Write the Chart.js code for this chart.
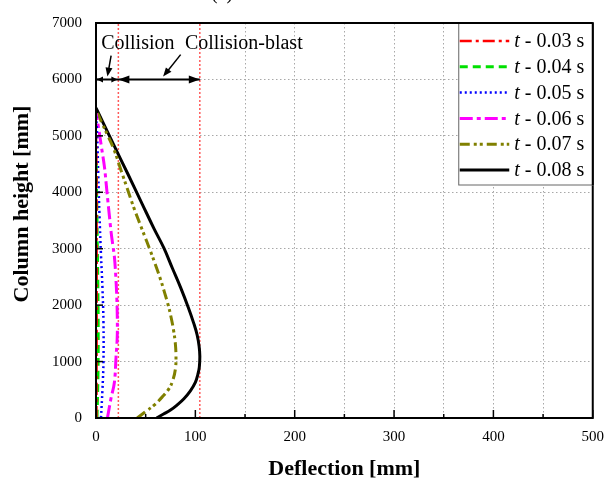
<!DOCTYPE html>
<html lang="en">
<head>
  <meta charset="UTF-8">
  <title>Column deflection</title>
  <script src="https://cdn.jsdelivr.net/npm/chart.js"></script>
  <style>
    html, body { margin: 0; padding: 0; background: #fff; }
  </style>
</head>
<body>
<canvas id="deflection" width="614" height="484"></canvas>
<script>
const SERIF = "'Liberation Serif', 'Times New Roman', serif";

// legend + styles, one entry per time step
const seriesTimes = ['0.03', '0.04', '0.05', '0.06', '0.07', '0.08'];
const seriesColors = ['#ff0000', '#00e000', '#0000ff', '#ff00ff', '#808000', '#000000'];
const seriesDash = [[12, 4, 3, 4], [8, 5], [2, 3], [13, 4, 4, 4], [10, 4, 3, 3, 3, 4], []];
const seriesWidth = [2.5, 3, 2.5, 3, 3, 3];

// deflection [mm] vs column height [mm]
const defl003 = [0.4, 0.6, 0.6, 0.4, 0];
const height003 = [0, 1500, 3000, 4500, 5000];
const defl004 = [1, 2, 2.2, 1.8, 1.2, 0.6, 0];
const height004 = [0, 800, 1600, 2400, 3200, 4000, 4600];
const defl005 = [5, 6.5, 7.5, 7.5, 6.5, 5, 3.5, 2.3, 1.2, 0];
const height005 = [0, 500, 1000, 1700, 2300, 2900, 3600, 4300, 5000, 5400];
const defl006 = [11.5, 15, 18.5, 20.2, 21.3, 21.5, 21, 20, 18.5, 16.8, 15.2, 13.5, 11.8, 10.2, 8.5, 5.5, 2.5, 0];
const height006 = [0, 340, 630, 1090, 1400, 1670, 2100, 2480, 2860, 3080, 3295, 3580, 3870, 4160, 4450, 4800, 5150, 5400];
const defl007 = [41.5, 50, 58.5, 66.5, 73.5, 77.5, 80, 80.5, 79.8, 78.3, 76.2, 72.8, 68.5, 65.5, 61, 55,
  46.8, 38.2, 31.8, 25, 18.5, 12.3, 5.8, 0];
const height007 = [0, 115, 228, 370, 520, 680, 880, 1100, 1330, 1529, 1732, 1992, 2253, 2426, 2658, 2948,
  3323, 3720, 4050, 4400, 4740, 4990, 5234, 5470];
const defl008 = [61, 68, 75, 82, 88.5, 95, 100, 102.5, 104, 104.5, 103.8, 101.8, 98.5, 92.8, 85.2, 76.8,
  68.5, 58.5, 46.3, 32.2, 18.1, 0];
const height008 = [0, 70, 140, 235, 340, 480, 630, 770, 900, 1100, 1270, 1471, 1673, 1963, 2310, 2658,
  3005, 3352, 3800, 4320, 4830, 5494];

const deflections = [defl003, defl004, defl005, defl006, defl007, defl008];
const heights = [height003, height004, height005, height006, height007, height008];

// phase boundaries (red dotted lines) and annotation
const phaseLimits = [22.5, 104.5];
const arrowLevel = 6000;
const noteTexts = ['Collision', 'Collision-blast'];
const noteX = [5.2, 89.5];
const noteY = [6540, 6540];
const pointerFromX = [15.2, 85.2];
const pointerFromY = [6420, 6440];
const pointerToX = [11.5, 67.5];
const pointerToY = [6050, 6050];

const zip = (xs, ys) => xs.map((v, i) => ({ x: v, y: ys[i] }));

const datasets = seriesTimes.map((t, i) => ({
  label: 't - ' + t + ' s',
  data: zip(deflections[i], heights[i]),
  borderColor: seriesColors[i],
  borderDash: seriesDash[i],
  borderWidth: seriesWidth[i],
  pointRadius: 0,
  tension: 0.4,
  fill: false
}));

phaseLimits.forEach(v => {
  datasets.push({
    label: '',
    data: [{ x: v, y: 0 }, { x: v, y: 7000 }],
    borderColor: '#ff5a5a',
    borderDash: [2, 2],
    borderWidth: 1.5,
    pointRadius: 0,
    fill: false
  });
});

function seg(ctx, x1, y1, x2, y2) {
  ctx.beginPath();
  ctx.moveTo(x1, y1);
  ctx.lineTo(x2, y2);
  ctx.stroke();
}

function head(ctx, tx, ty, ang, len, hw) {
  const bx = tx - len * Math.cos(ang), by = ty - len * Math.sin(ang);
  ctx.beginPath();
  ctx.moveTo(tx, ty);
  ctx.lineTo(bx - hw * Math.sin(ang), by + hw * Math.cos(ang));
  ctx.lineTo(bx + hw * Math.sin(ang), by - hw * Math.cos(ang));
  ctx.closePath();
  ctx.fill();
}

const paperPlugin = {
  id: 'paper',
  afterDraw(chart) {
    const { ctx, chartArea: a, scales: { x, y } } = chart;
    ctx.save();
    ctx.strokeStyle = '#000';
    ctx.fillStyle = '#000';
    ctx.setLineDash([]);

    // inward ticks
    ctx.lineWidth = 1.5;
    x.ticks.forEach(t => {
      const px = x.getPixelForValue(t.value);
      seg(ctx, px, a.bottom, px, a.bottom - (t.value % 100 === 0 ? 8 : 4));
    });
    y.ticks.forEach(t => {
      const py = y.getPixelForValue(t.value);
      seg(ctx, a.left, py, a.left + 7, py);
    });

    // frame
    ctx.lineWidth = 2;
    ctx.strokeRect(a.left, a.top, a.right - a.left, a.bottom - a.top);

    // collision / collision-blast arrows
    const ay = y.getPixelForValue(arrowLevel);
    const x0 = x.getPixelForValue(0);
    const x1 = x.getPixelForValue(phaseLimits[0]);
    const x2 = x.getPixelForValue(phaseLimits[1]);
    ctx.lineWidth = 2;
    seg(ctx, x0, ay, x2, ay);
    head(ctx, x0 + 1, ay, Math.PI, 6, 3);
    head(ctx, x1 - 1, ay, 0, 6, 3);
    head(ctx, x1, ay, Math.PI, 11, 4);
    head(ctx, x2, ay, 0, 11, 4);

    ctx.lineWidth = 1.5;
    pointerFromX.forEach((fx, i) => {
      const sx = x.getPixelForValue(fx), sy = y.getPixelForValue(pointerFromY[i]);
      const ex = x.getPixelForValue(pointerToX[i]), ey = y.getPixelForValue(pointerToY[i]);
      const ang = Math.atan2(ey - sy, ex - sx);
      seg(ctx, sx, sy, ex - 6 * Math.cos(ang), ey - 6 * Math.sin(ang));
      head(ctx, ex, ey, ang, 9, 3.5);
    });

    ctx.font = '20px ' + SERIF;
    ctx.textBaseline = 'alphabetic';
    ctx.textAlign = 'left';
    noteTexts.forEach((txt, i) => {
      ctx.fillText(txt, x.getPixelForValue(noteX[i]), y.getPixelForValue(noteY[i]));
    });

    // legend box in the upper right corner
    const lb = { left: a.right - 134.5, top: a.top, w: 134.5, h: 162 };
    ctx.fillStyle = '#fff';
    ctx.fillRect(lb.left, lb.top, lb.w, lb.h);
    ctx.strokeStyle = '#666';
    ctx.lineWidth = 1;
    ctx.strokeRect(lb.left + 0.5, lb.top, lb.w, lb.h);
    chart.data.datasets.slice(0, seriesTimes.length).forEach((ds, i) => {
      const ry = lb.top + 18 + i * 25.8;
      ctx.strokeStyle = ds.borderColor;
      ctx.lineWidth = ds.borderWidth;
      ctx.setLineDash(ds.borderDash);
      seg(ctx, lb.left + 1.5, ry, lb.left + 51, ry);
      ctx.setLineDash([]);
      ctx.fillStyle = '#000';
      ctx.textBaseline = 'middle';
      ctx.font = 'italic 20px ' + SERIF;
      const tx = lb.left + 56;
      ctx.fillText('t', tx, ry + 1);
      const tw = ctx.measureText('t').width;
      ctx.font = '20px ' + SERIF;
      ctx.fillText(' - ' + seriesTimes[i] + ' s', tx + tw, ry + 1);
    });
    ctx.strokeStyle = '#000';
    ctx.lineWidth = 2;
    seg(ctx, a.left, a.top, a.right, a.top);
    seg(ctx, a.right, a.top, a.right, lb.top + lb.h);

    // y title
    ctx.fillStyle = '#000';
    ctx.font = 'bold 22px ' + SERIF;
    ctx.textAlign = 'center';
    ctx.textBaseline = 'middle';
    ctx.save();
    ctx.translate(22, 204);
    ctx.rotate(-Math.PI / 2);
    ctx.fillText('Column height [mm]', 0, 0);
    ctx.restore();

    // panel label, cut by the top edge
    ctx.font = '20px ' + SERIF;
    ctx.textBaseline = 'alphabetic';
    ctx.fillText('(a)', 222, -1);
    ctx.restore();
  }
};

const gridGray = '#a8a8a8';

new Chart(document.getElementById('deflection'), {
  type: 'line',
  data: { datasets: datasets },
  options: {
    responsive: false,
    animation: false,
    devicePixelRatio: 1,
    layout: { padding: { top: 15, right: 17, left: 0, bottom: 0 } },
    plugins: { legend: { display: false }, tooltip: { enabled: false } },
    scales: {
      x: {
        type: 'linear',
        min: 0,
        max: 500,
        afterFit: s => { s.height = 66; },
        grid: {
          drawTicks: false,
          lineWidth: 1,
          color: c => (c.tick && c.tick.value >= 150 && c.tick.value < 500) ? gridGray : 'rgba(0,0,0,0)'
        },
        border: { display: false, dash: [1.5, 2.5] },
        ticks: {
          stepSize: 50,
          autoSkip: false,
          maxRotation: 0,
          padding: 10,
          color: '#000',
          font: { family: SERIF, size: 15 },
          callback: v => (v % 100 === 0 ? String(v) : '')
        },
        title: {
          display: true,
          text: 'Deflection [mm]',
          color: '#000',
          font: { family: SERIF, size: 22, weight: 'bold' },
          padding: { top: 0, bottom: 1 }
        }
      },
      y: {
        type: 'linear',
        min: 0,
        max: 7000,
        afterFit: s => { s.width = 96; },
        grid: {
          drawTicks: false,
          lineWidth: 1,
          color: c => (c.tick && c.tick.value > 0 && c.tick.value < 7000) ? gridGray : 'rgba(0,0,0,0)'
        },
        border: { display: false, dash: [1.5, 2.5] },
        ticks: {
          stepSize: 1000,
          padding: 14,
          color: '#000',
          font: { family: SERIF, size: 15 },
          callback: v => String(v)
        }
      }
    }
  },
  plugins: [paperPlugin]
});
</script>
</body>
</html>
